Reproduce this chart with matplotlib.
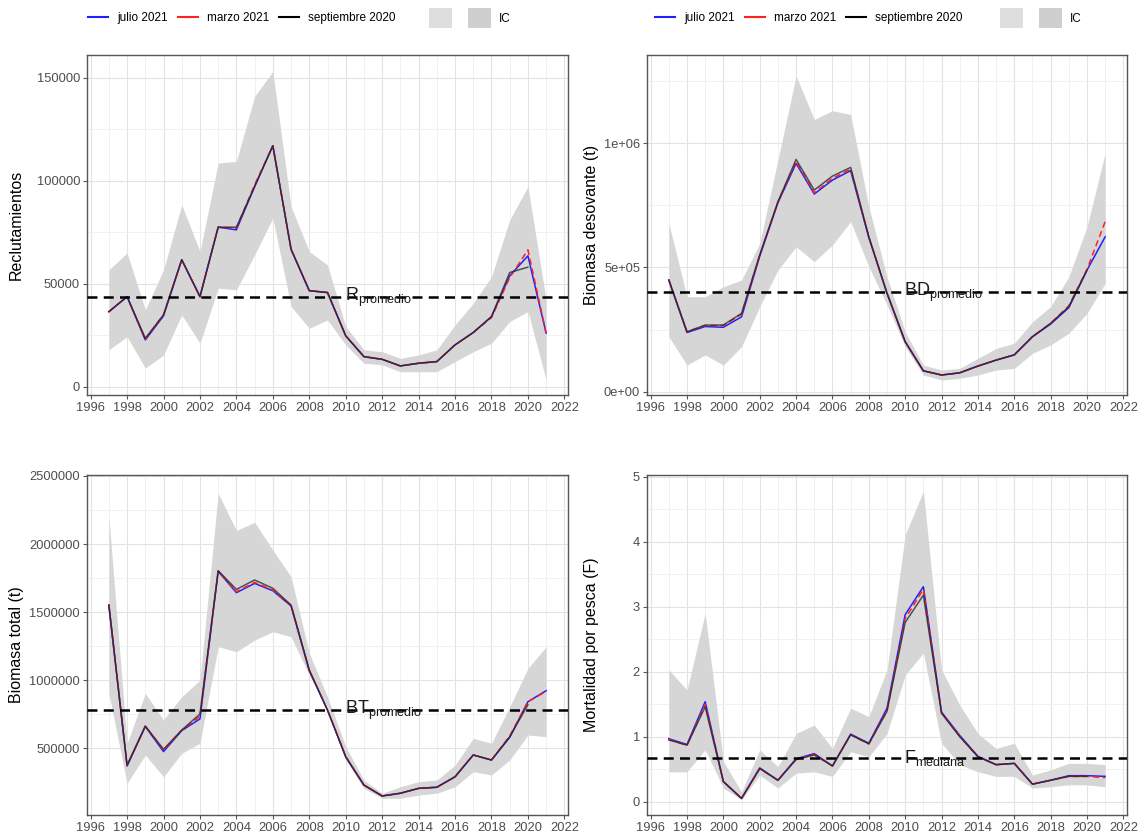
import numpy as np
import matplotlib
matplotlib.use("Agg")
import matplotlib.pyplot as plt
from matplotlib.lines import Line2D
from matplotlib.patches import Patch

plt.rcParams['font.family'] = ['Liberation Sans', 'DejaVu Sans']

years = list(range(1997, 2022))
years_prev = list(range(1997, 2021))

# Reclutamientos
r_jul = [36500, 43800, 22800, 34500, 61700, 43800, 77500, 76200, 97200, 117000, 66800, 46700, 45800,
         24800, 14700, 13400, 10200, 11500, 12300, 20400, 26400, 34100, 53900, 63600, 26100]
r_mar = [36500, 43800, 23200, 35000, 61700, 43800, 77500, 77000, 98000, 117000, 66800, 46700, 45800,
         24800, 14700, 13400, 10200, 11500, 12300, 20400, 26400, 33600, 53000, 66500, 26100]
r_sep = [36500, 43800, 23600, 35000, 61700, 43800, 77500, 77500, 97200, 117000, 66800, 46700, 45800,
         24800, 14700, 13400, 10200, 11500, 12300, 20400, 26400, 34100, 55500, 58100]
r_lo = [18000, 24400, 9100, 15500, 35000, 21200, 47900, 47100, 64100, 81900, 39000, 28500, 32500,
        20400, 11500, 10700, 7400, 7400, 7400, 12300, 17100, 21200, 31700, 36600, 3400]
r_hi = [56800, 65000, 37400, 56800, 88300, 65700, 108600, 109400, 141000, 153000, 87500, 65700, 59200,
        29300, 18000, 17100, 13900, 15500, 18000, 30100, 40600, 53500, 81000, 97200, 42200]
r_ref = 43500

# Biomasa desovante
bd_jul = [449000, 238000, 262000, 259000, 301000, 545000, 760000, 918000, 795000, 851000, 889000, 620000,
          396000, 201000, 84000, 67000, 76000, 103000, 127000, 148000, 221000, 272000, 338000, 489000, 623000]
bd_mar = [449000, 241000, 266000, 266000, 312000, 548000, 762000, 925000, 800000, 858000, 895000, 622000,
          396000, 201000, 84000, 67000, 76000, 103000, 127000, 148000, 221000, 275000, 345000, 492000, 684000]
bd_sep = [449000, 241000, 268000, 268000, 315000, 550000, 764000, 934000, 811000, 867000, 902000, 623000,
          396000, 201000, 84000, 67000, 76000, 103000, 127000, 148000, 221000, 275000, 342000, 489000]
bd_lo = [221000, 107000, 148000, 107000, 181000, 342000, 489000, 583000, 523000, 590000, 684000, 503000,
         349000, 181000, 67000, 47000, 54000, 67000, 87000, 94000, 154000, 188000, 235000, 315000, 436000]
bd_hi = [677000, 382000, 382000, 422000, 449000, 597000, 932000, 1270000, 1095000, 1130000, 1115000, 744000,
         462000, 241000, 107000, 87000, 94000, 134000, 174000, 195000, 281000, 342000, 462000, 663000, 959000]
bd_ref = 400000

# Biomasa total
bt_jul = [1552000, 370000, 660000, 476000, 630000, 716000, 1800000, 1643000, 1711000, 1657000, 1545000, 1070000,
          781000, 438000, 230000, 150000, 170000, 206000, 214000, 291000, 451000, 414000, 580000, 842000, 923000]
bt_mar = [1552000, 374000, 662000, 485000, 632000, 735000, 1802000, 1650000, 1718000, 1662000, 1548000, 1072000,
          781000, 438000, 230000, 150000, 170000, 206000, 214000, 291000, 451000, 414000, 590000, 842000, 918000]
bt_sep = [1552000, 377000, 664000, 493000, 634000, 752000, 1804000, 1667000, 1736000, 1675000, 1552000, 1075000,
          781000, 438000, 230000, 150000, 170000, 206000, 214000, 291000, 451000, 414000, 585000, 820000]
bt_lo = [904000, 243000, 451000, 291000, 463000, 537000, 1246000, 1209000, 1295000, 1356000, 1319000, 1038000,
         805000, 414000, 206000, 133000, 133000, 157000, 170000, 218000, 328000, 304000, 414000, 598000, 585000]
bt_hi = [2200000, 537000, 904000, 708000, 879000, 1000000, 2372000, 2100000, 2160000, 1956000, 1760000, 1198000,
         879000, 512000, 267000, 170000, 218000, 255000, 267000, 377000, 573000, 537000, 805000, 1087000, 1246000]
bt_ref = 780000

# Mortalidad por pesca
f_jul = [0.97, 0.88, 1.54, 0.31, 0.05, 0.52, 0.33, 0.66, 0.74, 0.55, 1.04, 0.90, 1.44,
         2.88, 3.31, 1.38, 1.02, 0.70, 0.57, 0.59, 0.27, 0.33, 0.40, 0.40, 0.39]
f_mar = [0.96, 0.87, 1.50, 0.31, 0.05, 0.51, 0.33, 0.65, 0.73, 0.55, 1.03, 0.89, 1.41,
         2.82, 3.27, 1.37, 1.01, 0.69, 0.57, 0.59, 0.27, 0.33, 0.39, 0.39, 0.37]
f_sep = [0.95, 0.87, 1.46, 0.31, 0.05, 0.51, 0.33, 0.65, 0.72, 0.55, 1.03, 0.89, 1.39,
         2.76, 3.18, 1.36, 1.00, 0.69, 0.57, 0.59, 0.27, 0.33, 0.39, 0.39]
f_lo = [0.46, 0.46, 0.80, 0.21, 0.03, 0.41, 0.21, 0.44, 0.46, 0.39, 0.77, 0.69, 1.05,
        1.95, 2.29, 0.90, 0.57, 0.46, 0.39, 0.39, 0.21, 0.23, 0.26, 0.26, 0.23]
f_hi = [2.03, 1.72, 2.90, 0.62, 0.15, 0.80, 0.54, 1.05, 1.18, 0.82, 1.44, 1.31, 2.03,
        4.11, 4.78, 2.03, 1.49, 1.05, 0.82, 0.90, 0.41, 0.49, 0.59, 0.59, 0.57]
f_ref = 0.67

W, H = 1141, 835
fig = plt.figure(figsize=(W / 100, H / 100), dpi=100)

def px_axes(l, t, r, b):
    return fig.add_axes([l / W, 1 - b / H, (r - l) / W, (b - t) / H])

panels = [
    (px_axes(87, 55, 568, 395), r_jul, r_mar, r_sep, r_lo, r_hi, r_ref, r'R$_{\mathregular{promedio}}$',
     'Reclutamientos', (-3900, 161000), [0, 50000, 100000, 150000], ['0', '50000', '100000', '150000'], 25000, -0.131),
    (px_axes(647, 55, 1127, 395), bd_jul, bd_mar, bd_sep, bd_lo, bd_hi, bd_ref, r'BD$_{\mathregular{promedio}}$',
     'Biomasa desovante (t)', (-13300, 1354000), [0, 500000, 1000000], ['0e+00', '5e+05', '1e+06'], 250000, -0.100),
    (px_axes(87, 475, 568, 815), bt_jul, bt_mar, bt_sep, bt_lo, bt_hi, bt_ref, r'BT$_{\mathregular{promedio}}$',
     'Biomasa total (t)', (10300, 2507000), [500000, 1000000, 1500000, 2000000, 2500000],
     ['500000', '1000000', '1500000', '2000000', '2500000'], 250000, -0.131),
    (px_axes(647, 475, 1127, 815), f_jul, f_mar, f_sep, f_lo, f_hi, f_ref, r'F$_{\mathregular{mediana}}$',
     'Mortalidad por pesca (F)', (-0.205, 5.03), [0, 1, 2, 3, 4, 5], ['0', '1', '2', '3', '4', '5'], 0.5, -0.100),
]

for ax, jul, mar, sep, lo, hi, ref, reflab, ylab, ylim, yt, ytl, yminor, labx in panels:
    ax.fill_between(years, lo, hi, color='#d6d6d6', linewidth=0, zorder=1)
    ax.plot(years, jul, color='#2020ff', lw=1.1, zorder=3)
    ax.plot(years, mar, color='#ff2020', lw=1.1, ls=(0, (4, 2.5)), zorder=3)
    ax.plot(years_prev, sep, color='#222222', lw=1.1, alpha=0.75, zorder=4)
    ax.axhline(ref, color='black', lw=1.8, ls=(0, (4, 2.5)), zorder=5)
    ax.text(2009.95, ref, reflab, fontsize=13, ha='left', va='center', color='#1a1a1a', zorder=6)

    ax.set_xlim(1995.8, 2022.2)
    ax.set_ylim(*ylim)
    ax.set_xticks(range(1996, 2023, 2))
    ax.set_xticks(range(1997, 2023, 2), minor=True)
    ax.set_yticks(yt)
    ax.set_yticklabels(ytl)
    ax.set_yticks(np.arange(yt[0] - yminor, ylim[1], 2 * yminor)[1:] if yt[0] - yminor > ylim[0]
                  else np.arange(yt[0] + yminor, ylim[1], 2 * yminor), minor=True)
    ax.grid(which='major', color='#e3e3e3', lw=0.8, zorder=0)
    ax.grid(which='minor', color='#efefef', lw=0.6, zorder=0)
    ax.set_axisbelow(True)
    ax.tick_params(axis='both', which='major', labelsize=9.3, colors='#555555', length=3,
                   labelcolor='#4d4d4d', pad=2)
    ax.tick_params(axis='both', which='minor', length=0)
    for s in ax.spines.values():
        s.set_color('#555555')
        s.set_linewidth(1.0)
    ax.set_ylabel(ylab, fontsize=11.5, color='black')
    ax.yaxis.set_label_coords(labx, 0.5)

line_handles = [Line2D([], [], color='#2020ff', lw=1.5),
                Line2D([], [], color='#ff2020', lw=1.5),
                Line2D([], [], color='black', lw=1.5)]
line_labels = ['julio 2021', 'marzo 2021', 'septiembre 2020']
fill_handles = [Patch(facecolor='#dedede', edgecolor='none'),
                Patch(facecolor='#cfcfcf', edgecolor='none')]
fill_labels = ['', 'IC']
for x_lines, x_fill in [(88, 429), (655, 1000)]:
    fig.legend(line_handles, line_labels, loc='center left', bbox_to_anchor=(x_lines / W, 1 - 18 / H),
               ncol=3, frameon=False, fontsize=8.5, handlelength=1.7, handletextpad=0.75,
               columnspacing=0.85, borderpad=0, borderaxespad=0)
    fig.legend(fill_handles, fill_labels, loc='center left', bbox_to_anchor=(x_fill / W, 1 - 18 / H),
               ncol=2, frameon=False, fontsize=8.5, handlelength=1.95, handleheight=2.2,
               handletextpad=0.68, columnspacing=0.68, borderpad=0, borderaxespad=0)

fig.savefig('out.png', dpi=100)
